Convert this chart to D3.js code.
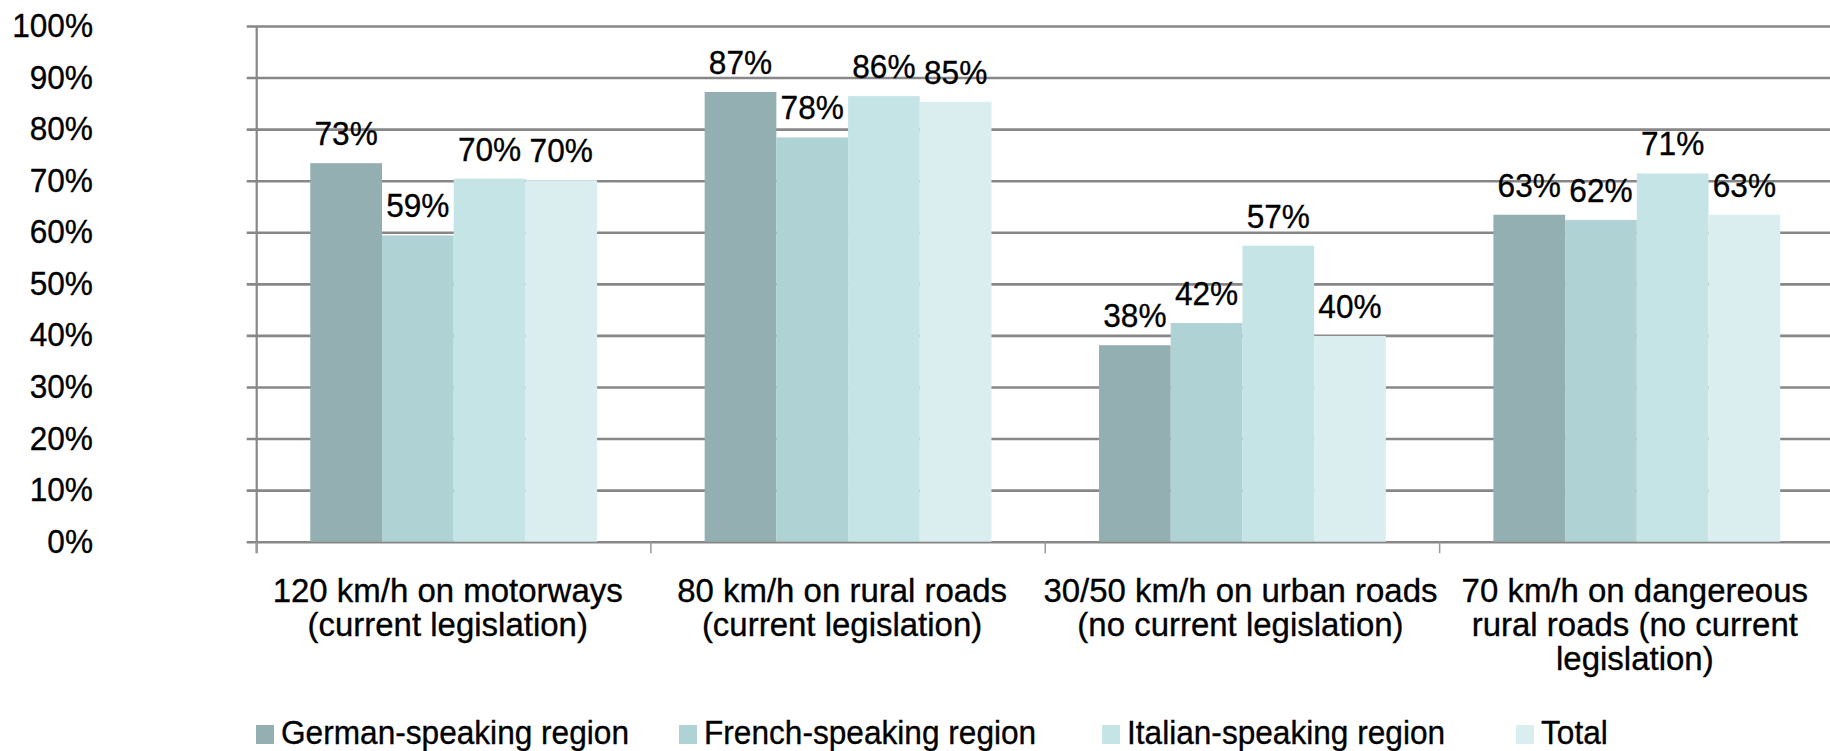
<!DOCTYPE html>
<html><head><meta charset="utf-8">
<script src="https://cdn.jsdelivr.net/npm/d3@7/dist/d3.min.js"></script>
<style>body{margin:0;background:#fff} svg{display:block}</style>
</head><body><svg id="chart" width="1830" height="751"></svg>
<script>
// ---- data ----
const categories = [
  "120 km/h on motorways (current legislation)",
  "80 km/h on rural roads (current legislation)",
  "30/50 km/h on urban roads (no current legislation)",
  "70 km/h on dangereous rural roads (no current legislation)"
];
const categoryLines = [
  ["120 km/h on motorways", "(current legislation)"],
  ["80 km/h on rural roads", "(current legislation)"],
  ["30/50 km/h on urban roads", "(no current legislation)"],
  ["70 km/h on dangereous", "rural roads (no current", "legislation)"]
];
const seriesNames = ["German-speaking region", "French-speaking region", "Italian-speaking region", "Total"];
const germanValues  = [73.4, 87.2, 38.1, 63.4];
const frenchValues  = [59.4, 78.4, 42.4, 62.4];
const italianValues = [70.4, 86.4, 57.4, 71.4];
const totalValues   = [70.1, 85.3, 39.9, 63.4];
const yTickValues = [0, 10, 20, 30, 40, 50, 60, 70, 80, 90, 100];

// ---- styles / layout ----
const seriesColors = ["#93afb1", "#afd2d4", "#c5e4e6", "#daedef"];
const FONT = "'Liberation Sans', Arial, sans-serif";
const FS = 34;
const NUM_SX = 0.93, CAT_SX = 0.97, LEG_SX = 0.93;
const TEXT_STROKE = 0.35;
const axisX = 256.7, plotLeft = 256.5, plotRight = 1834, gridLeft = 246.7;
const legendX = [256, 679, 1102, 1516];
const catDx = [-6, -6, -2, -2];

const series = [germanValues, frenchValues, italianValues, totalValues];
const svg = d3.select("#chart");

function styleText(sel) {
  return sel.attr("font-family", FONT).attr("font-size", FS).attr("fill", "#000")
    .attr("stroke", "#000").attr("stroke-width", TEXT_STROKE);
}

const x0 = d3.scaleBand().domain(categories).range([plotLeft, plotRight]).padding(0);
const x1 = d3.scaleBand().domain(seriesNames).range([0, x0.bandwidth()]).paddingInner(0).paddingOuter(0.75);
const y = d3.scaleLinear().domain([0, 100]).range([541.7, 26]);

// gridlines via axis
const grid = svg.append("g").attr("transform", `translate(${gridLeft},0)`)
  .call(d3.axisLeft(y).tickValues(yTickValues).tickSize(-(1830 - gridLeft)).tickFormat(""));
grid.select(".domain").remove();
grid.selectAll(".tick line").attr("stroke", "#878787").attr("stroke-width", 2.6);

// y axis line
svg.append("line").attr("x1", axisX).attr("x2", axisX).attr("y1", y(100)).attr("y2", y(0) + 11.5)
  .attr("stroke", "#878787").attr("stroke-width", 2.2);

// y tick labels
svg.append("g").selectAll("text").data(yTickValues).join("text")
  .attr("transform", d => `translate(93,${y(d) + 11}) scale(${NUM_SX},1)`)
  .attr("text-anchor", "end").call(styleText)
  .text(d => d + "%");

// category separators (ticks below x axis)
svg.append("g").selectAll("line").data(d3.range(categories.length + 1)).join("line")
  .attr("x1", i => plotLeft + i * x0.step()).attr("x2", i => plotLeft + i * x0.step())
  .attr("y1", y(0)).attr("y2", y(0) + 11.5)
  .attr("stroke", "#9a9a9a").attr("stroke-width", 1.5);

// bars
const groups = svg.append("g").selectAll("g").data(categories).join("g")
  .attr("transform", d => `translate(${x0(d)},0)`);
groups.selectAll("rect").data((c, ci) => seriesNames.map((s, si) => ({s, si, v: series[si][ci]}))).join("rect")
  .attr("x", d => x1(d.s)).attr("width", x1.bandwidth())
  .attr("y", d => y(d.v)).attr("height", d => y(0) - y(d.v))
  .attr("fill", d => seriesColors[d.si]);

// data labels
groups.selectAll("text").data((c, ci) => seriesNames.map((s, si) => ({s, si, v: series[si][ci]}))).join("text")
  .attr("transform", d => `translate(${x1(d.s) + x1.bandwidth() / 2},${y(d.v) - 18}) scale(${NUM_SX},1)`)
  .attr("text-anchor", "middle").call(styleText)
  .text(d => Math.round(d.v) + "%");

// category labels
const catG = svg.append("g").selectAll("g").data(categories).join("g")
  .attr("transform", (d, i) => `translate(${x0(d) + x0.bandwidth() / 2 + catDx[i]},0)`);
catG.selectAll("text").data((c, ci) => categoryLines[ci]).join("text")
  .attr("transform", (d, i) => `translate(0,${602 + i * 34}) scale(${CAT_SX},1)`)
  .attr("text-anchor", "middle").call(styleText)
  .text(d => d);

// legend
const leg = svg.append("g").selectAll("g").data(seriesNames).join("g")
  .attr("transform", (d, i) => `translate(${legendX[i]},0)`);
leg.append("rect").attr("x", 0).attr("y", 725).attr("width", 18).attr("height", 19)
  .attr("fill", (d, i) => seriesColors[i]);
leg.append("text").attr("transform", "translate(25,744) scale(" + LEG_SX + ",1)")
  .call(styleText)
  .text(d => d);
</script>
</body></html>
